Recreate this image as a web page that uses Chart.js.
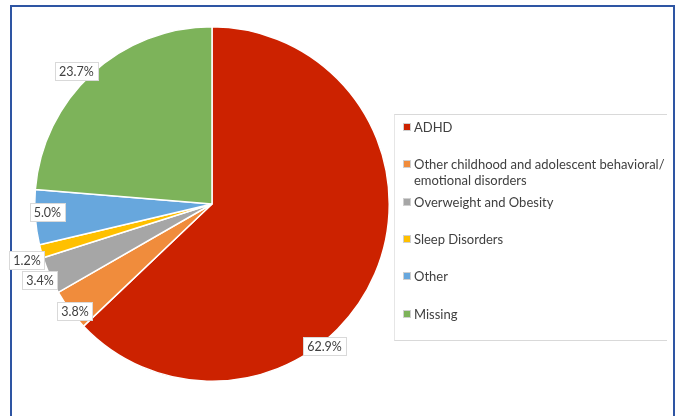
<!DOCTYPE html>
<html>
<head>
<meta charset="utf-8">
<script src="https://cdn.jsdelivr.net/npm/chart.js@4/dist/chart.umd.min.js"></script>
<style>
  html,body{margin:0;padding:0;background:#fff;}
  body{width:680px;height:416px;position:relative;overflow:hidden;font-family:Lato,"Open Sans",sans-serif;}
  #frame{position:absolute;left:10px;top:5px;width:661px;height:440px;border:2px solid #2E55A3;box-sizing:content-box;}
  #wrap{position:absolute;left:0;top:0;width:680px;height:416px;}
  #legend{position:absolute;left:394px;top:114px;width:272px;height:225px;border-top:1px solid #D9D9D9;border-bottom:1px solid #D9D9D9;border-left:1px solid #E6E6E6;overflow:hidden;}
  .item{position:absolute;left:8px;white-space:nowrap;font-size:13px;line-height:16px;color:#404040;}
  .sw{position:absolute;left:0;top:4px;width:6px;height:6px;border:1px solid #D0D0D0;}
  .txt{position:absolute;left:11px;top:0;}
</style>
</head>
<body>
<div id="frame"></div>
<div id="wrap"><canvas id="c" width="680" height="416"></canvas></div>
<div id="legend"></div>
<script>
const categories = ["ADHD", "Other childhood and adolescent behavioral/\nemotional disorders", "Overweight and Obesity", "Sleep Disorders", "Other", "Missing"];
const values = [62.9, 3.8, 3.4, 1.2, 5.0, 23.7];
const valueLabels = ["62.9%", "3.8%", "3.4%", "1.2%", "5.0%", "23.7%"];
const colors = ["#CC2200", "#F08C3C", "#A6A6A6", "#FFC000", "#67A7DD", "#7DB35A"];

// HTML legend built from the arrays
const legend = document.getElementById('legend');
categories.forEach((cat, i) => {
  const d = document.createElement('div');
  d.className = 'item';
  d.style.top = (4 + i * 37.3) + 'px';
  const sw = document.createElement('div');
  sw.className = 'sw';
  sw.style.background = colors[i];
  const t = document.createElement('div');
  t.className = 'txt';
  t.innerHTML = cat.split('\n').join('<br>');
  d.appendChild(sw); d.appendChild(t);
  legend.appendChild(d);
});

const labelPlugin = {
  id: 'boxLabels',
  afterDatasetsDraw(chart, args, opts) {
    const ctx = chart.ctx;
    const meta = chart.getDatasetMeta(0);
    ctx.save();
    ctx.font = '12.5px Lato, "Open Sans", sans-serif';
    ctx.textAlign = 'center';
    ctx.textBaseline = 'middle';
    meta.data.forEach((arc, i) => {
      const p = arc.getProps(['x','y','startAngle','endAngle','outerRadius'], true);
      const f = opts.fraction[i];
      const a = p.startAngle + (p.endAngle - p.startAngle) * f;
      const r = p.outerRadius * opts.radius[i];
      const cx = p.x + Math.cos(a) * r;
      const cy = p.y + Math.sin(a) * r;
      const text = valueLabels[i];
      const w = ctx.measureText(text).width + 8;
      const h = 18;
      ctx.fillStyle = '#FFFFFF';
      ctx.fillRect(Math.round(cx - w/2), Math.round(cy - h/2), Math.round(w), h);
      ctx.strokeStyle = '#D9D9D9';
      ctx.lineWidth = 1;
      ctx.strokeRect(Math.round(cx - w/2) + 0.5, Math.round(cy - h/2) + 0.5, Math.round(w), h);
      ctx.fillStyle = '#404040';
      ctx.fillText(text, cx, cy + 1);
    });
    ctx.restore();
  }
};

new Chart(document.getElementById('c'), {
  type: 'pie',
  data: {
    labels: categories,
    datasets: [{
      data: values,
      backgroundColor: colors,
      borderColor: '#FFFFFF',
      borderWidth: 1.5
    }]
  },
  options: {
    responsive: false,
    animation: false,
    events: [],
    layout: { padding: { left: 34, top: 26, right: 290, bottom: 34 } },
    plugins: {
      legend: { display: false },
      tooltip: { enabled: false },
      boxLabels: {
        fraction: [0.625, 0.41, 0.5, 0.19, 0.58, 0.465],
        radius: [1.02, 0.98, 1.06, 1.09, 0.93, 1.07]
      }
    }
  },
  plugins: [labelPlugin]
});
</script>
</body>
</html>
